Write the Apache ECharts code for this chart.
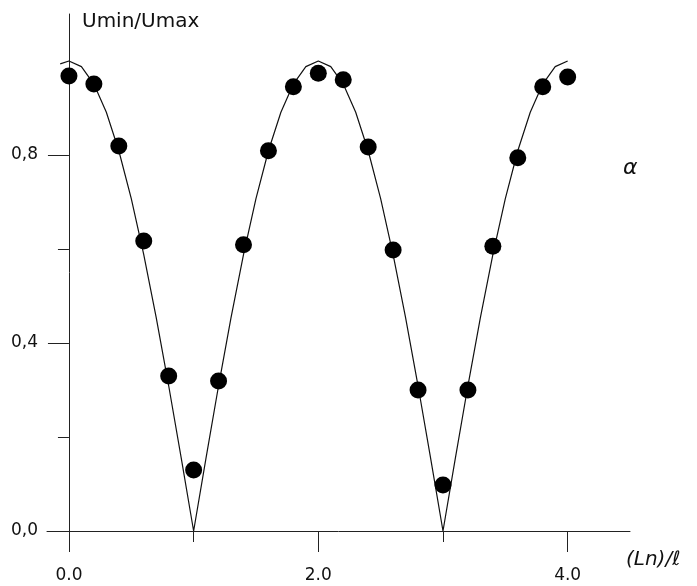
<!DOCTYPE html>
<html>
<head>
<meta charset="utf-8">
<script src="https://cdn.jsdelivr.net/npm/echarts@6/dist/echarts.min.js"></script>
<style>
html,body{margin:0;padding:0;background:#fff;}
#chart{width:697px;height:586px;}
</style>
</head>
<body>
<div id="chart"></div>
<script>
// Measured points
var pointX = [0.0,0.2,0.4,0.6,0.8,1.0,1.2,1.4,1.6,1.8,2.0,2.2,2.4,2.6,2.8,3.0,3.2,3.4,3.6,3.8,4.0];
var pointY = [0.968,0.951,0.819,0.617,0.330,0.130,0.319,0.609,0.809,0.945,0.974,0.960,0.817,0.598,0.300,0.098,0.300,0.606,0.794,0.945,0.966];

// Theoretical curve
var curveX = [-0.07,0.0,0.1,0.2,0.3,0.4,0.5,0.6,0.7,0.8,0.9,1.0,1.1,1.2,1.3,1.4,1.5,1.6,1.7,1.8,1.9,2.0,
              2.1,2.2,2.3,2.4,2.5,2.6,2.7,2.8,2.9,3.0,3.1,3.2,3.3,3.4,3.5,3.6,3.7,3.8,3.9,4.0];
var curveY = [0.994,1.000,0.988,0.951,0.891,0.809,0.707,0.588,0.454,0.309,0.156,0.000,0.156,0.309,0.454,0.588,0.707,0.809,0.891,0.951,0.988,1.000,
              0.988,0.951,0.891,0.809,0.707,0.588,0.454,0.309,0.156,0.000,0.156,0.309,0.454,0.588,0.707,0.809,0.891,0.951,0.988,1.000];

var xMajorTicks = [0, 2, 4];
var xMinorTicks = [1, 3];
var yMajorTicks = [0, 0.4, 0.8];
var yMinorTicks = [0.2, 0.6];

var yAxisName = 'Umin/Umax';
var xAxisName = '(Ln)/\u2113';
var panelLabel = '\u03b1';

var FONT = '"DejaVu Sans", "Liberation Sans", Arial, sans-serif';
var AX = '#222';

var chart = echarts.init(document.getElementById('chart'), null, {renderer: 'canvas'});

function pairs(xs, ys) { return xs.map(function (x, i) { return [x, ys[i]]; }); }

var xMin = -0.176, xMax = 4.5, yMin = 0, yMax = 1.1;

chart.setOption({
  animation: false,
  backgroundColor: '#fff',
  grid: {left: 47, top: 14, width: 583, height: 517, containLabel: false, outerBoundsMode: 'none'},
  xAxis: [
    {
      type: 'value', min: xMin, max: xMax, position: 'bottom',
      axisLine: {show: true, onZero: false, lineStyle: {color: AX, width: 1}},
      axisTick: {show: true, inside: false, length: 21, customValues: xMajorTicks, lineStyle: {color: AX, width: 1}},
      axisLabel: {show: true, customValues: xMajorTicks, margin: 36, color: '#111', fontFamily: FONT, fontSize: 17,
                  formatter: function (v) { return v.toFixed(1); }},
      splitLine: {show: false}
    },
    {
      type: 'value', min: xMin, max: xMax, position: 'bottom',
      axisLine: {show: false, onZero: false},
      axisTick: {show: true, inside: false, length: 11, customValues: xMinorTicks, lineStyle: {color: AX, width: 1}},
      axisLabel: {show: false},
      splitLine: {show: false}
    }
  ],
  yAxis: [
    {
      type: 'value', min: yMin, max: yMax, position: 'left',
      axisLine: {show: true, onZero: true, lineStyle: {color: AX, width: 1}},
      axisTick: {show: true, inside: false, length: 21, customValues: yMajorTicks, lineStyle: {color: AX, width: 1}},
      axisLabel: {show: true, customValues: yMajorTicks, margin: 9, color: '#111', fontFamily: FONT, fontSize: 17,
                  formatter: function (v) { return v.toFixed(1).replace('.', ','); }},
      splitLine: {show: false}
    },
    {
      type: 'value', min: yMin, max: yMax, position: 'left',
      axisLine: {show: false, onZero: true},
      axisTick: {show: true, inside: false, length: 11, customValues: yMinorTicks, lineStyle: {color: AX, width: 1}},
      axisLabel: {show: false},
      splitLine: {show: false}
    }
  ],
  graphic: [
    {type: 'text', left: 82, top: 12, style: {text: yAxisName, font: '20px ' + FONT, fill: '#111'}},
    {type: 'text', left: 626, top: 550, style: {text: xAxisName, font: 'italic 20px ' + FONT, fill: '#111'}},
    {type: 'text', left: 623, top: 157, style: {text: panelLabel, font: 'italic 22px ' + FONT, fill: '#111'}}
  ],
  series: [
    {
      type: 'line', xAxisIndex: 0, yAxisIndex: 0,
      data: pairs(curveX, curveY),
      showSymbol: false, smooth: false,
      lineStyle: {color: '#111', width: 1.2},
      z: 2
    },
    {
      type: 'scatter', xAxisIndex: 0, yAxisIndex: 0,
      data: pairs(pointX, pointY),
      symbol: 'circle', symbolSize: 17,
      itemStyle: {color: '#000', opacity: 1},
      z: 3
    }
  ]
});
</script>
</body>
</html>
